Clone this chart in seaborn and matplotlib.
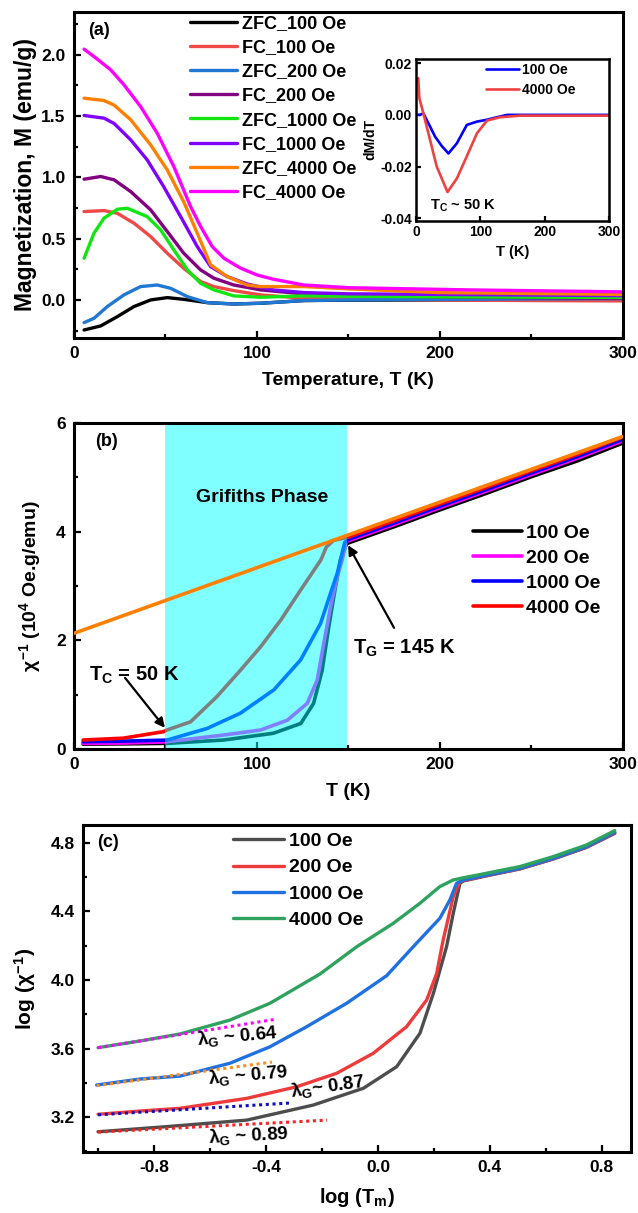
import numpy as np
import pandas as pd
import matplotlib
matplotlib.use('Agg')
import matplotlib.pyplot as plt
import seaborn as sns
from matplotlib.ticker import MultipleLocator, FormatStrFormatter

# ---------------- data: panel (a) M(T) ----------------
zfc100_T = [5.5, 14.6, 23.7, 32.8, 41.9, 51, 60, 72.9, 87.4, 102, 125.7, 150, 200, 250, 300]
zfc100_M = [-0.245, -0.212, -0.136, -0.054, 0.0, 0.019, 0.005, -0.022, -0.033, -0.027, -0.005, -0.002, 0.0, 0.0, 0.0]
fc100_T = [5.5, 16.4, 23.7, 32.8, 41.9, 51, 60, 69.2, 76.5, 87.4, 102, 125.7, 150, 200, 250, 300]
fc100_M = [0.721, 0.729, 0.707, 0.626, 0.517, 0.381, 0.258, 0.15, 0.109, 0.076, 0.041, 0.014, 0.008, 0.0, -0.005, -0.008]
zfc200_T = [5.5, 10.9, 18.2, 27.3, 36.4, 45.5, 52.8, 62, 72.9, 87.4, 102, 125.7, 150, 200, 250, 300]
zfc200_M = [-0.185, -0.15, -0.054, 0.041, 0.109, 0.122, 0.095, 0.027, -0.022, -0.033, -0.027, -0.005, 0.0, 0.005, 0.008, 0.01]
fc200_T = [5.5, 14.6, 21.9, 31, 41.9, 51, 60, 69.2, 76.5, 87.4, 102, 125.7, 150, 200, 250, 300]
fc200_M = [0.985, 1.007, 0.98, 0.884, 0.735, 0.558, 0.381, 0.245, 0.177, 0.122, 0.082, 0.049, 0.035, 0.025, 0.018, 0.012]
zfc1000_T = [5.5, 10.9, 16.4, 23.7, 29.1, 40, 47.4, 54.6, 62, 69.2, 76.5, 87.4, 102, 125.7, 200, 300]
zfc1000_M = [0.34, 0.544, 0.667, 0.74, 0.748, 0.68, 0.571, 0.408, 0.245, 0.136, 0.082, 0.033, 0.022, 0.033, 0.025, 0.02]
fc1000_T = [5.5, 16.4, 21.9, 31, 40, 49, 58.3, 67.4, 74.7, 83.8, 94.7, 109, 125.7, 150, 200, 250, 300]
fc1000_M = [1.505, 1.483, 1.44, 1.306, 1.143, 0.925, 0.68, 0.435, 0.272, 0.19, 0.13, 0.082, 0.06, 0.05, 0.045, 0.04, 0.035]
zfc4000_T = [5.5, 16.4, 21.9, 31, 41.9, 51, 60, 67.4, 74.7, 83.8, 94.7, 102, 125.7, 150, 200, 300]
zfc4000_M = [1.646, 1.627, 1.59, 1.47, 1.265, 1.06, 0.80, 0.544, 0.286, 0.19, 0.122, 0.109, 0.109, 0.09, 0.06, 0.045]
fc4000_T = [5.5, 10.9, 20, 27.3, 36.4, 45.5, 54.6, 63.8, 69.2, 75.6, 82, 91, 100, 109, 125.7, 150, 216, 300]
fc4000_M = [2.046, 1.986, 1.878, 1.755, 1.578, 1.36, 1.088, 0.76, 0.60, 0.435, 0.34, 0.26, 0.204, 0.169, 0.122, 0.1, 0.082, 0.066]

labels_a = ['ZFC_100 Oe', 'FC_100 Oe', 'ZFC_200 Oe', 'FC_200 Oe',
            'ZFC_1000 Oe', 'FC_1000 Oe', 'ZFC_4000 Oe', 'FC_4000 Oe']
colors_a = ['#000000', '#f04848', '#2178d2', '#800080',
            '#12e612', '#7f00ff', '#ff8000', '#ff00ff']

# inset dM/dT
ins100_T = [3, 6, 11.5, 21.9, 29.7, 40, 50.5, 63.5, 79, 94.8, 110, 126, 141.7, 162, 300]
ins100_d = [0.0, 0.0, 0.0006, -0.0045, -0.0084, -0.012, -0.0149, -0.011, -0.0039, -0.0026, -0.0019, -0.0009, 0.0, 0.0, 0.0]
ins4000_T = [3.6, 5.2, 11.5, 21.9, 32.3, 49, 63.5, 79, 94.8, 110.4, 131, 162.5, 300]
ins4000_d = [0.0142, 0.0065, 0.0006, -0.0097, -0.020, -0.0298, -0.0246, -0.016, -0.0071, -0.0022, -0.0009, -0.0003, -0.0003]

# ---------------- data: panel (b) inverse susceptibility ----------------
b100_T = [5, 27, 49, 51, 82, 109, 124, 131, 135.7, 139.3, 143, 145.7, 149, 175, 200, 225, 250, 275, 300]
b100_X = [0.09, 0.095, 0.104, 0.104, 0.166, 0.29, 0.47, 0.84, 1.45, 2.25, 2.99, 3.48, 3.78, 4.09, 4.40, 4.70, 5.01, 5.30, 5.63]
b200_T = [5, 27, 49, 51, 82, 102, 116.6, 127.5, 133, 136.6, 140.3, 143.9, 146.6, 149, 175, 200, 225, 250, 275, 300]
b200_X = [0.104, 0.11, 0.13, 0.135, 0.258, 0.35, 0.53, 0.84, 1.27, 1.95, 2.62, 3.17, 3.48, 3.82, 4.13, 4.44, 4.74, 5.05, 5.35, 5.67]
b1000_T = [5, 27, 49, 51, 72.9, 91, 109.3, 123.9, 134.8, 140.3, 143.9, 145.7, 148, 150, 175, 200, 225, 250, 275, 300]
b1000_X = [0.135, 0.145, 0.163, 0.166, 0.38, 0.66, 1.09, 1.64, 2.31, 2.87, 3.23, 3.48, 3.80, 3.86, 4.16, 4.47, 4.77, 5.08, 5.38, 5.70]
b4000_T = [5, 27, 49, 50.8, 63.7, 78, 91, 102, 113, 124, 135, 138, 142, 150, 175, 200, 225, 250, 275, 300]
b4000_X = [0.166, 0.2, 0.32, 0.35, 0.50, 0.96, 1.45, 1.88, 2.37, 2.93, 3.48, 3.72, 3.84, 3.90, 4.20, 4.51, 4.81, 5.12, 5.42, 5.74]
cw_T = [0, 300]
cw_X = [2.13, 5.75]
gp_start, gp_end = 50, 149
labels_b = ['100 Oe', '200 Oe', '1000 Oe', '4000 Oe']
colors_b = ['#000000', '#ff00ff', '#0000ff', '#ff0000']

# ---------------- data: panel (c) log-log ----------------
c100_x = [-1.0, -0.755, -0.469, -0.231, -0.052, 0.067, 0.15, 0.198, 0.245, 0.269, 0.293, 0.305, 0.388, 0.507, 0.626, 0.745, 0.846]
c100_y = [3.114, 3.144, 3.182, 3.27, 3.368, 3.494, 3.689, 3.922, 4.194, 4.389, 4.565, 4.578, 4.608, 4.648, 4.706, 4.774, 4.856]
c200_x = [-1.0, -0.85, -0.707, -0.469, -0.29, -0.148, -0.017, 0.102, 0.174, 0.21, 0.233, 0.269, 0.293, 0.305, 0.388, 0.507, 0.626, 0.745, 0.846]
c200_y = [3.216, 3.235, 3.251, 3.309, 3.377, 3.455, 3.572, 3.727, 3.883, 4.039, 4.234, 4.486, 4.575, 4.58, 4.61, 4.65, 4.708, 4.776, 4.858]
c1000_x = [-1.005, -0.85, -0.707, -0.529, -0.386, -0.255, -0.112, 0.031, 0.126, 0.221, 0.257, 0.281, 0.305, 0.388, 0.507, 0.626, 0.745, 0.846]
c1000_y = [3.387, 3.422, 3.439, 3.514, 3.61, 3.727, 3.864, 4.025, 4.194, 4.36, 4.467, 4.565, 4.584, 4.612, 4.652, 4.71, 4.778, 4.862]
c4000_x = [-1.0, -0.85, -0.707, -0.529, -0.386, -0.207, -0.076, 0.055, 0.15, 0.221, 0.269, 0.30, 0.388, 0.507, 0.626, 0.745, 0.846]
c4000_y = [3.605, 3.644, 3.685, 3.766, 3.864, 4.035, 4.194, 4.331, 4.448, 4.545, 4.584, 4.595, 4.623, 4.662, 4.72, 4.788, 4.872]
colors_c = ['#4d4d4d', '#ee3a3a', '#1f70e0', '#2ea25e']

fit_x = [[-1.0, -0.361], [-1.005, -0.379], [-1.0, -0.314], [-1.0, -0.182]]
fit_y = [[3.605, 3.772], [3.383, 3.521], [3.213, 3.282], [3.112, 3.182]]
fit_colors = ['#ff00ff', '#ff8c1a', '#1010c0', '#ff2020']
lam_labels = [r'$\lambda_G$ ~ 0.64', r'$\lambda_G$ ~ 0.79', r'$\lambda_G$~ 0.87', r'$\lambda_G$ ~ 0.89']
lam_pos = [(-0.646, 3.655, 5), (-0.607, 3.422, 5), (-0.314, 3.346, 8), (-0.607, 3.083, 3)]

# ---------------- style ----------------
sns.set_theme(style='ticks')
plt.rcParams['font.family'] = ['Liberation Sans', 'DejaVu Sans']
plt.rcParams['font.weight'] = 'bold'
plt.rcParams['axes.labelweight'] = 'bold'
plt.rcParams['mathtext.fontset'] = 'custom'
plt.rcParams['mathtext.rm'] = 'Liberation Sans:bold'
plt.rcParams['mathtext.it'] = 'Liberation Sans:bold'
plt.rcParams['mathtext.bf'] = 'Liberation Sans:bold'
plt.rcParams['axes.unicode_minus'] = False
for k in ['text.color', 'axes.labelcolor', 'xtick.color', 'ytick.color', 'axes.edgecolor']:
    plt.rcParams[k] = 'black'


def style(ax, fs=12.5, sw=2.2, pad=6, ml=5, mnl=3):
    for s in ax.spines.values():
        s.set_linewidth(sw)
        s.set_color('black')
    ax.tick_params(which='both', direction='in', width=1.6, colors='black',
                   labelsize=fs, pad=pad, top=False, right=False)
    ax.tick_params(which='major', length=ml)
    ax.tick_params(which='minor', length=mnl)


def line(ax, x, y, color, label, lw=2.3, **kw):
    sns.lineplot(x=x, y=y, ax=ax, color=color, label=label, linewidth=lw,
                 sort=False, estimator=None, **kw)


fig = plt.figure(figsize=(6.38, 12.13), dpi=100)

# ---------------- panel (a) ----------------
axa = fig.add_axes([0.116, 0.7214, 0.860, 0.2688])
series_a = [(zfc100_T, zfc100_M), (fc100_T, fc100_M), (zfc200_T, zfc200_M), (fc200_T, fc200_M),
            (zfc1000_T, zfc1000_M), (fc1000_T, fc1000_M), (zfc4000_T, zfc4000_M), (fc4000_T, fc4000_M)]
for (t, m), lab, col in zip(series_a, labels_a, colors_a):
    line(axa, t, m, col, lab, lw=2.4)
axa.set_xlim(0, 300)
axa.set_ylim(-0.31, 2.35)
axa.xaxis.set_major_locator(MultipleLocator(100))
axa.xaxis.set_minor_locator(MultipleLocator(50))
axa.yaxis.set_major_locator(MultipleLocator(0.5))
axa.yaxis.set_minor_locator(MultipleLocator(0.25))
axa.yaxis.set_major_formatter(FormatStrFormatter('%.1f'))
style(axa)
axa.set_xlabel('Temperature, T (K)', fontsize=14, labelpad=8)
axa.set_ylabel('Magnetization, M (emu/g)', fontsize=16.5, labelpad=3)
axa.text(0.0255, 0.942, '(a)', transform=axa.transAxes, fontsize=13, ha='left', va='center')
axa.legend(loc='upper left', bbox_to_anchor=(0.211, 0.991), frameon=False, fontsize=13,
           handlelength=2.6, handletextpad=0.3, labelspacing=0.4, borderpad=0, borderaxespad=0)

# inset
axi = fig.add_axes([0.652, 0.8178, 0.3025, 0.1336])
line(axi, ins100_T, ins100_d, '#0000ff', '100 Oe', lw=1.9)
line(axi, ins4000_T, ins4000_d, '#f04040', '4000 Oe', lw=1.9)
axi.set_xlim(0, 300)
axi.set_ylim(-0.041, 0.0216)
axi.set_xticks([0, 100, 200, 300])
axi.set_yticks([0.02, 0.0, -0.02, -0.04])
axi.yaxis.set_major_formatter(FormatStrFormatter('%.2f'))
style(axi, fs=10, sw=1.8, pad=3, ml=3.5)
axi.set_xlabel('T (K)', fontsize=10.5, labelpad=4)
axi.set_ylabel('dM/dT', fontsize=10, labelpad=2)
axi.text(22, -0.0353, r'T$_C$ ~ 50 K', fontsize=10.5, ha='left', va='center')
axi.legend(loc='upper left', bbox_to_anchor=(0.363, 0.975), frameon=False, fontsize=10,
           handlelength=2.4, handletextpad=0.2, labelspacing=0.45, borderpad=0, borderaxespad=0)

# ---------------- panel (b) ----------------
axb = fig.add_axes([0.116, 0.3825, 0.860, 0.2688])
series_b = [(b100_T, b100_X), (b200_T, b200_X), (b1000_T, b1000_X), (b4000_T, b4000_X)]
for (t, x), lab, col in zip(series_b, labels_b, colors_b):
    line(axb, t, x, col, lab, lw=2.6)
axb.axvspan(gp_start, gp_end, color='#00ffff', alpha=0.5, lw=0, zorder=2.5)
line(axb, cw_T, cw_X, '#ff8000', '_nolegend_', lw=2.6, zorder=3)
axb.set_xlim(0, 300)
axb.set_ylim(0, 6)
axb.xaxis.set_major_locator(MultipleLocator(100))
axb.xaxis.set_minor_locator(MultipleLocator(50))
axb.yaxis.set_major_locator(MultipleLocator(2))
axb.yaxis.set_minor_locator(MultipleLocator(1))
style(axb)
axb.set_xlabel('T (K)', fontsize=14, labelpad=8)
axb.set_ylabel(r'$\chi^{-1}$ (10$^4$ Oe.g/emu)', fontsize=14, labelpad=9)
axb.text(0.038, 0.942, '(b)', transform=axb.transAxes, fontsize=13, ha='left', va='center', zorder=5)
axb.text(103, 4.62, 'Grifiths Phase', fontsize=14, ha='center', va='center', zorder=5)
arrow = dict(arrowstyle='-|>', color='black', lw=1.6, mutation_scale=14, shrinkA=0, shrinkB=0)
axb.annotate('', xy=(49.7, 0.39), xytext=(27.9, 1.31), arrowprops=arrow, zorder=5)
axb.text(8, 1.36, r'T$_C$ = 50 K', fontsize=14.5, ha='left', va='center', zorder=6)
axb.annotate('', xy=(149.9, 3.75), xytext=(175, 2.23), arrowprops=arrow, zorder=5)
axb.text(152.5, 1.86, r'T$_G$ = 145 K', fontsize=14.5, ha='left', va='center', zorder=6)
axb.legend(loc='upper left', bbox_to_anchor=(0.727, 0.69), frameon=False, fontsize=14,
           handlelength=2.5, handletextpad=0.25, labelspacing=0.38, borderpad=0, borderaxespad=0)

# ---------------- panel (c) ----------------
axc = fig.add_axes([0.130, 0.0503, 0.859, 0.2696])
series_c = [(c100_x, c100_y), (c200_x, c200_y), (c1000_x, c1000_y), (c4000_x, c4000_y)]
for (xx, yy), lab, col in zip(series_c, labels_b, colors_c):
    line(axc, xx, yy, col, lab, lw=2.4)
for fx, fy, fc in zip(fit_x, fit_y, fit_colors):
    line(axc, fx, fy, fc, '_nolegend_', lw=2.2, linestyle=(0, (1, 1.2)), zorder=4)
for lab, (lx, ly, rot) in zip(lam_labels, lam_pos):
    axc.text(lx, ly, lab, fontsize=13.5, ha='left', va='center', rotation=rot,
             rotation_mode='anchor', zorder=6)
axc.set_xlim(-1.054, 0.904)
axc.set_ylim(2.996, 4.905)
axc.set_xticks([-0.8, -0.4, 0.0, 0.4, 0.8])
axc.set_xticks([-1.0, -0.6, -0.2, 0.2, 0.6], minor=True)
axc.set_yticks([3.2, 3.6, 4.0, 4.4, 4.8])
axc.set_yticks([3.0, 3.4, 3.8, 4.2, 4.6], minor=True)
axc.xaxis.set_major_formatter(FormatStrFormatter('%.1f'))
axc.yaxis.set_major_formatter(FormatStrFormatter('%.1f'))
style(axc)
axc.set_xlabel(r'log (T$_m$)', fontsize=14.5, labelpad=8)
axc.set_ylabel(r'log ($\chi^{-1}$)', fontsize=15, labelpad=9)
axc.text(0.0255, 0.945, '(c)', transform=axc.transAxes, fontsize=13, ha='left', va='center')
axc.legend(loc='upper left', bbox_to_anchor=(0.274, 0.977), frameon=False, fontsize=14,
           handlelength=2.6, handletextpad=0.25, labelspacing=0.45, borderpad=0, borderaxespad=0)

fig.savefig('out.png', dpi=100)
